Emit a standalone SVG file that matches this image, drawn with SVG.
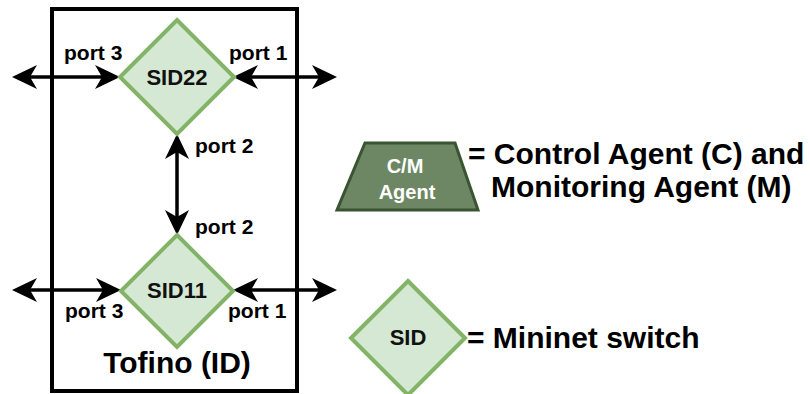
<svg xmlns="http://www.w3.org/2000/svg" width="810" height="394" viewBox="0 0 810 394">
<style>
.sw{fill:#d5e8d4;stroke:#82b366;stroke-width:4}
.lbl{font-family:"Liberation Sans",Arial,sans-serif;font-weight:bold;font-size:21px;fill:#000}
.sid{font-family:"Liberation Sans",Arial,sans-serif;font-weight:bold;font-size:22px;fill:#111;text-anchor:middle}
.big{font-family:"Liberation Sans",Arial,sans-serif;font-weight:bold;font-size:30px;fill:#000}
.agt{font-family:"Liberation Sans",Arial,sans-serif;font-weight:bold;font-size:20px;fill:#fff;text-anchor:middle}
.ln{stroke:#000;stroke-width:3.5;fill:none;marker-start:url(#ah);marker-end:url(#ah)}
</style>
<defs>
<marker id="ah" markerUnits="userSpaceOnUse" markerWidth="26" markerHeight="26" viewBox="0 0 26 24" refX="7" refY="12" orient="auto-start-reverse">
<path d="M0,0 L25,12 L0,24 L7,12 Z" fill="#000"/>
</marker>
</defs>
<rect width="810" height="394" fill="#fff"/>
<g id="tofino">
<rect x="52" y="9" width="245" height="382" fill="#fff" stroke="#000" stroke-width="4"/>
<text class="big" x="177" y="373" text-anchor="middle" font-size="28">Tofino (ID)</text>
</g>
<g id="connectors">
<line class="ln" x1="30" y1="77" x2="102" y2="77"/>
<line class="ln" x1="251" y1="77" x2="319" y2="77"/>
<line class="ln" x1="177" y1="152" x2="177" y2="217"/>
<line class="ln" x1="30" y1="290" x2="103" y2="290"/>
<line class="ln" x1="251" y1="290" x2="319" y2="290"/>
<text class="lbl" x="64" y="60">port 3</text>
<text class="lbl" x="229" y="60">port 1</text>
<text class="lbl" x="195" y="153">port 2</text>
<text class="lbl" x="195" y="234">port 2</text>
<text class="lbl" x="65" y="318">port 3</text>
<text class="lbl" x="228" y="318">port 1</text>
</g>
<g id="sid22">
<polygon class="sw" points="177,20 234,77 177,134 120,77"/>
<text class="sid" x="177" y="85">SID22</text>
</g>
<g id="sid11">
<polygon class="sw" points="177,235 233,291 177,347 121,291"/>
<text class="sid" x="177" y="298">SID11</text>
</g>
<g id="legend-agent">
<polygon points="365,143 455,143 478,210 337,210" fill="#6d8764" stroke="#3a5431" stroke-width="3"/>
<text class="agt" x="405" y="173">C/M</text>
<text class="agt" x="407" y="199">Agent</text>
<text class="big" x="468" y="164">= Control Agent (C) and</text>
<text class="big" x="491" y="197">Monitoring Agent (M)</text>
</g>
<g id="legend-sid">
<polygon class="sw" points="408,281 465,338 408,395 351,338"/>
<text class="sid" x="408" y="345">SID</text>
<text class="big" x="467" y="348">= Mininet switch</text>
</g>
</svg>
